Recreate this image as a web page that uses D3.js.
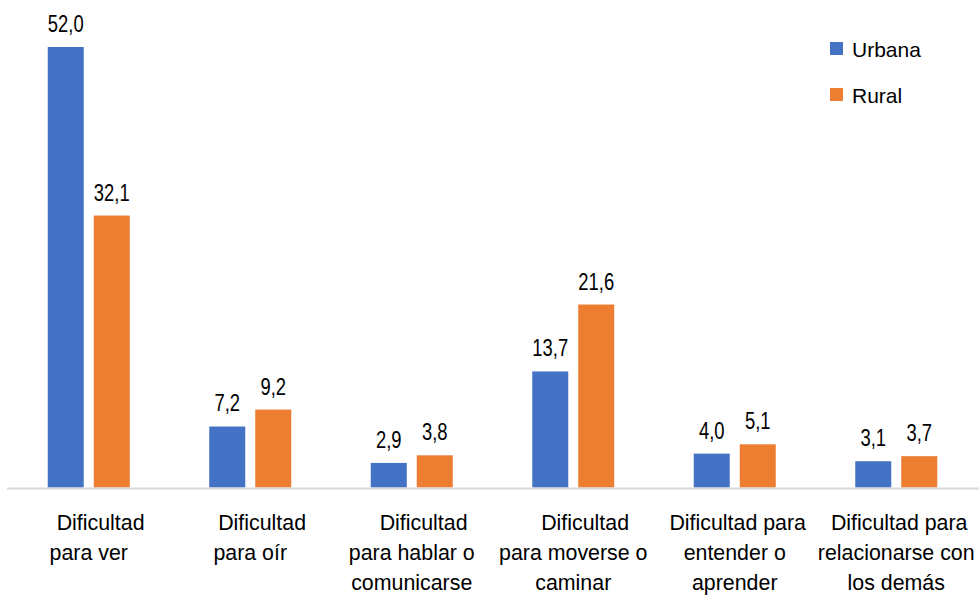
<!DOCTYPE html>
<html>
<head>
<meta charset="utf-8">
<script src="https://cdn.jsdelivr.net/npm/d3@7"></script>
<style>
	body { margin: 0; background: #fff; }
	text { font-family: "Liberation Sans", Arial, sans-serif; fill: #000; white-space: pre; }
</style>
</head>
<body>
<svg id="chart" width="979" height="595"></svg>
<script>
// data
var categories = ['ver', 'oir', 'hablar', 'moverse', 'entender', 'relacionarse'];
var categoryLines = [
	['    Dificultad', 'para ver'],
	['    Dificultad', 'para oír'],
	['    Dificultad', 'para hablar o', 'comunicarse'],
	['    Dificultad', 'para moverse o', 'caminar'],
	[' Dificultad para', 'entender o', 'aprender'],
	[' Dificultad para', 'relacionarse con', 'los demás']
];
var series = ['Urbana', 'Rural'];
var urbana = [52.0, 7.2, 2.9, 13.7, 4.0, 3.1];
var rural = [32.1, 9.2, 3.8, 21.6, 5.1, 3.7];

var colors = { Urbana: '#4472C4', Rural: '#ED7D31' };
var values = { Urbana: urbana, Rural: rural };

var width = 979, height = 595;
var g = d3.select('#chart');

// narrow look: squeeze text horizontally
var sxVal = 0.8;
var sxCat = 0.93;

var x0 = d3.scaleBand()
	.domain(categories)
	.range([8, 977]);

var x1 = d3.scaleBand()
	.domain(series)
	.range([0, 82])
	.paddingInner(10 / 46);

var y = d3.scaleLinear()
	.domain([0, d3.max(urbana.concat(rural))])
	.range([487.5, 47]);

var fmt = function(v) { return d3.format('.1f')(v).replace('.', ','); };

function barX(s, i) {
	return x0(categories[i]) + x0.bandwidth() / 2 - 41 + x1(s);
}

// bars
series.forEach(function(s) {
	g.append('g').selectAll('rect')
		.data(values[s])
		.enter().append('rect')
		.attr('x', function(d, i) { return barX(s, i); })
		.attr('y', function(d) { return y(d); })
		.attr('width', x1.bandwidth())
		.attr('height', function(d) { return y(0) - y(d); })
		.style('fill', colors[s]);

	g.append('g')
		.attr('transform', 'scale(' + sxVal + ',1)')
		.selectAll('text')
		.data(values[s])
		.enter().append('text')
		.attr('x', function(d, i) { return (barX(s, i) + x1.bandwidth() / 2) / sxVal; })
		.attr('y', function(d) { return y(d) - 15; })
		.attr('text-anchor', 'middle')
		.style('font-size', '23px')
		.text(fmt);
});

// baseline
g.append('line')
	.attr('x1', 7)
	.attr('x2', width)
	.attr('y1', y(0) + 1)
	.attr('y2', y(0) + 1)
	.attr('stroke', '#d9d9d9')
	.attr('stroke-width', 2);

// category labels
var cat = g.append('g')
	.attr('transform', 'scale(' + sxCat + ',1)')
	.selectAll('text')
	.data(categories)
	.enter().append('text')
	.attr('text-anchor', 'middle')
	.style('font-size', '23px');

cat.each(function(c, i) {
	var t = d3.select(this);
	categoryLines[i].forEach(function(line, k) {
		t.append('tspan')
			.attr('x', (x0(c) + x0.bandwidth() / 2) / sxCat)
			.attr('y', 530 + k * 30)
			.text(line);
	});
});

// legend
var legend = g.append('g').selectAll('g')
	.data(series)
	.enter().append('g')
	.attr('transform', function(d, i) { return 'translate(830,' + (42 + i * 46) + ')'; });

legend.append('rect')
	.attr('width', 13)
	.attr('height', 13)
	.style('fill', function(d) { return colors[d]; });

legend.append('text')
	.attr('x', 22)
	.attr('y', 15)
	.style('font-size', '21px')
	.text(function(d) { return d; });
</script>
</body>
</html>
